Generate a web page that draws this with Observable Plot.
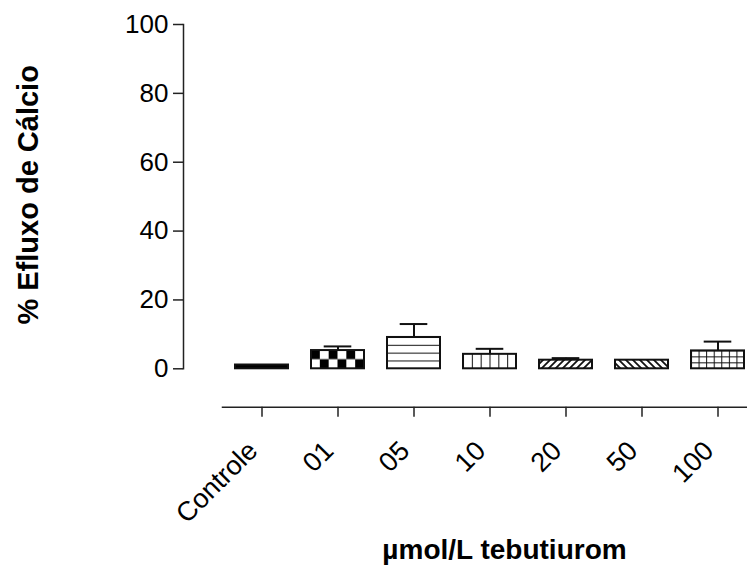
<!DOCTYPE html>
<html>
<head>
<meta charset="utf-8">
<script src="https://cdn.jsdelivr.net/npm/d3@7"></script>
<script src="https://cdn.jsdelivr.net/npm/@observablehq/plot@0.6"></script>
<style>
  html, body { margin: 0; padding: 0; background: #fff; }
</style>
</head>
<body>
<div id="chart"></div>
<script>
// ---- data ----
const categories = ["Controle", "01", "05", "10", "20", "50", "100"];
const means      = [1.1, 5.3, 9.1, 4.2, 2.5, 2.5, 5.2];
const errors     = [0, 1.2, 3.9, 1.6, 0.6, 0, 2.7];
const yTicks     = [0, 20, 40, 60, 80, 100];
const yTitle     = "% Efluxo de Cálcio";
const xTitle     = "µmol/L tebutiurom";

const table = categories.map((c, i) => ({cat: c, mean: means[i], err: errors[i]}));
const withErr = table.filter(d => d.err > 0);

// pattern fills per category (styling)
const patternFills = ["black", "url(#p01)", "url(#p05)", "url(#p10)", "url(#p20)", "url(#p50)", "url(#p100)"];

const font = "'Liberation Sans', Arial, Helvetica, sans-serif";

const chart = Plot.plot({
  width: 747,
  height: 569,
  marginTop: 24,
  marginLeft: 183,
  marginRight: 0,
  marginBottom: 162.3,
  style: {fontFamily: font, fontSize: "26px", color: "#000", background: "#fff"},
  x: {domain: categories, range: [222.5, 756.6], paddingInner: 0.3, paddingOuter: 0.15},
  y: {domain: [0, 100], range: [368.3, 24]},
  color: {type: "ordinal", domain: categories, range: patternFills},
  marks: [
    Plot.ruleX(withErr, {x: "cat", y1: "mean", y2: d => d.mean + d.err, stroke: "#111", strokeWidth: 2}),
    Plot.tickY(withErr, {x: "cat", y: d => d.mean + d.err, stroke: "#111", strokeWidth: 2, insetLeft: 12.7, insetRight: 12.7}),
    Plot.barY(table, {x: "cat", y: "mean", fill: "cat", stroke: "#111", strokeWidth: 2}),
    Plot.axisY({ticks: yTicks, tickSize: 10, tickPadding: 5, fontSize: 26, label: null, stroke: "#222", strokeWidth: 1.5}),
    Plot.frame({anchor: "left", insetBottom: 38.4, stroke: "#222", strokeWidth: 1.5}),
    Plot.axisX({tickSize: 10, text: null, label: null, stroke: "#222", strokeWidth: 1.5}),
    Plot.axisX({tickSize: 0, tickRotate: -45, tickPadding: 14, fontSize: 27, label: null, dx: -9, dy: 25}),
    Plot.frame({anchor: "bottom", insetLeft: 39, stroke: "#222", strokeWidth: 1.5}),
    Plot.text([yTitle], {text: d => d, frameAnchor: "left", textAnchor: "middle", rotate: -90, dx: -155, dy: -21, fontSize: 29, fontWeight: "bold", fill: "#000"}),
    Plot.text([xTitle], {text: d => d, frameAnchor: "bottom", textAnchor: "middle", dx: 39, dy: 152, fontSize: 28, fontWeight: "bold", fill: "#000"})
  ]
});

// ---- pattern definitions ----
const svg = d3.select(chart);
const defs = svg.insert("defs", ":first-child");

// checkerboard: 6 cols x 2 rows over the bar
const p01 = defs.append("pattern").attr("id", "p01")
  .attr("patternUnits", "objectBoundingBox").attr("patternContentUnits", "objectBoundingBox")
  .attr("width", 1/3).attr("height", 1);
p01.append("rect").attr("width", 1/3).attr("height", 1).attr("fill", "#fff");
p01.append("rect").attr("x", 0).attr("y", 0).attr("width", 1/6).attr("height", 0.5).attr("fill", "#000");
p01.append("rect").attr("x", 1/6).attr("y", 0.5).attr("width", 1/6).attr("height", 0.5).attr("fill", "#000");

// horizontal lines: 4 stripes
const p05 = defs.append("pattern").attr("id", "p05")
  .attr("patternUnits", "objectBoundingBox").attr("width", 1).attr("height", 0.25);
p05.append("rect").attr("width", 200).attr("height", 200).attr("fill", "#fff");
p05.append("rect").attr("x", 0).attr("y", -1).attr("width", 200).attr("height", 2).attr("fill", "#111");

// vertical lines: 6 columns
const p10 = defs.append("pattern").attr("id", "p10")
  .attr("patternUnits", "objectBoundingBox").attr("width", 1/6).attr("height", 1);
p10.append("rect").attr("width", 200).attr("height", 200).attr("fill", "#fff");
p10.append("rect").attr("x", -1).attr("y", 0).attr("width", 2).attr("height", 200).attr("fill", "#111");

// forward diagonal hatch
const p20 = defs.append("pattern").attr("id", "p20")
  .attr("patternUnits", "userSpaceOnUse").attr("width", 7).attr("height", 7);
p20.append("rect").attr("width", 7).attr("height", 7).attr("fill", "#fff");
p20.append("path").attr("d", "M0,7 L7,0 M-1,1 L1,-1 M6,8 L8,6").attr("stroke", "#111").attr("stroke-width", 1.8);

// backward diagonal hatch
const p50 = defs.append("pattern").attr("id", "p50")
  .attr("patternUnits", "userSpaceOnUse").attr("width", 7).attr("height", 7);
p50.append("rect").attr("width", 7).attr("height", 7).attr("fill", "#fff");
p50.append("path").attr("d", "M0,0 L7,7 M-1,6 L1,8 M6,-1 L8,1").attr("stroke", "#111").attr("stroke-width", 1.8);

// grid: 7 columns x 3 rows
const p100 = defs.append("pattern").attr("id", "p100")
  .attr("patternUnits", "objectBoundingBox").attr("width", 1/7).attr("height", 1/3);
p100.append("rect").attr("width", 200).attr("height", 200).attr("fill", "#fff");
p100.append("rect").attr("x", -1).attr("y", 0).attr("width", 2).attr("height", 200).attr("fill", "#111");
p100.append("rect").attr("x", 0).attr("y", -1).attr("width", 200).attr("height", 2).attr("fill", "#111");

document.getElementById("chart").appendChild(chart);
</script>
</body>
</html>
